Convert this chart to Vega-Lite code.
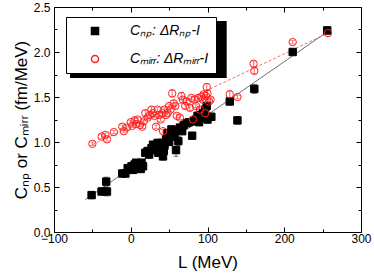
{
  "$schema": "https://vega.github.io/schema/vega-lite/v6.json",
  "width": 307,
  "height": 225,
  "autosize": "none",
  "padding": {"left": 54, "top": 7, "right": 13, "bottom": 46},
  "background": "white",
  "config": {
    "font": "Liberation Sans",
    "view": {"stroke": "black", "strokeWidth": 1},
    "axis": {"grid": false, "domainColor": "black", "tickColor": "black", "labelColor": "black", "titleColor": "black", "labelFontSize": 12, "titleFontSize": 17, "titleFontWeight": "normal", "labelFont": "Liberation Sans", "titleFont": "Liberation Sans", "labelFlush": false}
  },
  "datasets": {
    "pts": [
      {"L": -51, "C": 0.41, "err": 0.04, "s": "np"},
      {"L": -38, "C": 0.45, "err": 0.04, "s": "np"},
      {"L": -32, "C": 0.56, "err": 0.05, "s": "np"},
      {"L": -31, "C": 0.45, "err": 0.05, "s": "np"},
      {"L": -11, "C": 0.65, "err": 0.03, "s": "np"},
      {"L": -7, "C": 0.65, "err": 0.03, "s": "np"},
      {"L": -4, "C": 0.71, "err": 0.03, "s": "np"},
      {"L": 1, "C": 0.73, "err": 0.03, "s": "np"},
      {"L": 3, "C": 0.69, "err": 0.03, "s": "np"},
      {"L": 5, "C": 0.75, "err": 0.04, "s": "np"},
      {"L": 7, "C": 0.77, "err": 0.03, "s": "np"},
      {"L": 9, "C": 0.72, "err": 0.03, "s": "np"},
      {"L": 11, "C": 0.74, "err": 0.03, "s": "np"},
      {"L": 13, "C": 0.70, "err": 0.03, "s": "np"},
      {"L": 14, "C": 0.77, "err": 0.03, "s": "np"},
      {"L": 16, "C": 0.73, "err": 0.03, "s": "np"},
      {"L": 19, "C": 0.88, "err": 0.03, "s": "np"},
      {"L": 22, "C": 0.90, "err": 0.03, "s": "np"},
      {"L": 24, "C": 0.86, "err": 0.03, "s": "np"},
      {"L": 27, "C": 0.93, "err": 0.04, "s": "np"},
      {"L": 29, "C": 0.97, "err": 0.03, "s": "np"},
      {"L": 31, "C": 0.91, "err": 0.03, "s": "np"},
      {"L": 33, "C": 0.95, "err": 0.03, "s": "np"},
      {"L": 35, "C": 0.99, "err": 0.03, "s": "np"},
      {"L": 36, "C": 0.88, "err": 0.03, "s": "np"},
      {"L": 38, "C": 0.93, "err": 0.03, "s": "np"},
      {"L": 40, "C": 0.99, "err": 0.03, "s": "np"},
      {"L": 42, "C": 0.84, "err": 0.04, "s": "np"},
      {"L": 43, "C": 0.90, "err": 0.04, "s": "np"},
      {"L": 44, "C": 0.96, "err": 0.03, "s": "np"},
      {"L": 46, "C": 1.03, "err": 0.03, "s": "np"},
      {"L": 48, "C": 1.10, "err": 0.03, "s": "np"},
      {"L": 50, "C": 1.00, "err": 0.03, "s": "np"},
      {"L": 51, "C": 1.06, "err": 0.03, "s": "np"},
      {"L": 53, "C": 1.14, "err": 0.03, "s": "np"},
      {"L": 55, "C": 1.10, "err": 0.03, "s": "np"},
      {"L": 56, "C": 1.13, "err": 0.03, "s": "np"},
      {"L": 57, "C": 1.06, "err": 0.03, "s": "np"},
      {"L": 59, "C": 0.91, "err": 0.07, "s": "np"},
      {"L": 62, "C": 1.01, "err": 0.05, "s": "np"},
      {"L": 64, "C": 1.16, "err": 0.03, "s": "np"},
      {"L": 67, "C": 1.12, "err": 0.03, "s": "np"},
      {"L": 69, "C": 1.19, "err": 0.03, "s": "np"},
      {"L": 73, "C": 1.21, "err": 0.03, "s": "np"},
      {"L": 76, "C": 1.22, "err": 0.03, "s": "np"},
      {"L": 80, "C": 1.07, "err": 0.03, "s": "np"},
      {"L": 82, "C": 1.23, "err": 0.03, "s": "np"},
      {"L": 85, "C": 1.25, "err": 0.03, "s": "np"},
      {"L": 87, "C": 1.29, "err": 0.03, "s": "np"},
      {"L": 89, "C": 1.22, "err": 0.03, "s": "np"},
      {"L": 90, "C": 1.30, "err": 0.03, "s": "np"},
      {"L": 92, "C": 1.27, "err": 0.03, "s": "np"},
      {"L": 94, "C": 1.32, "err": 0.03, "s": "np"},
      {"L": 97, "C": 1.36, "err": 0.03, "s": "np"},
      {"L": 99, "C": 1.40, "err": 0.03, "s": "np"},
      {"L": 100, "C": 1.25, "err": 0.04, "s": "np"},
      {"L": 105, "C": 1.28, "err": 0.04, "s": "np"},
      {"L": 129, "C": 1.45, "err": 0.03, "s": "np"},
      {"L": 139, "C": 1.24, "err": 0.04, "s": "np"},
      {"L": 161, "C": 1.59, "err": 0.05, "s": "np"},
      {"L": 211, "C": 2.00, "err": 0.03, "s": "np"},
      {"L": 256, "C": 2.24, "err": 0.03, "s": "np"},
      {"L": -50, "C": 0.98, "err": 0.02, "s": "mirr"},
      {"L": -38, "C": 1.06, "err": 0.02, "s": "mirr"},
      {"L": -33, "C": 1.08, "err": 0.02, "s": "mirr"},
      {"L": -31, "C": 1.03, "err": 0.02, "s": "mirr"},
      {"L": -22, "C": 1.11, "err": 0.02, "s": "mirr"},
      {"L": -11, "C": 1.17, "err": 0.02, "s": "mirr"},
      {"L": -9, "C": 1.12, "err": 0.02, "s": "mirr"},
      {"L": -5, "C": 1.16, "err": 0.02, "s": "mirr"},
      {"L": 0, "C": 1.22, "err": 0.02, "s": "mirr"},
      {"L": 2, "C": 1.18, "err": 0.02, "s": "mirr"},
      {"L": 5, "C": 1.24, "err": 0.02, "s": "mirr"},
      {"L": 7, "C": 1.20, "err": 0.02, "s": "mirr"},
      {"L": 9, "C": 1.25, "err": 0.02, "s": "mirr"},
      {"L": 12, "C": 1.19, "err": 0.02, "s": "mirr"},
      {"L": 15, "C": 1.17, "err": 0.02, "s": "mirr"},
      {"L": 17, "C": 1.23, "err": 0.02, "s": "mirr"},
      {"L": 19, "C": 1.32, "err": 0.03, "s": "mirr"},
      {"L": 22, "C": 1.27, "err": 0.02, "s": "mirr"},
      {"L": 25, "C": 1.30, "err": 0.03, "s": "mirr"},
      {"L": 27, "C": 1.36, "err": 0.03, "s": "mirr"},
      {"L": 29, "C": 1.32, "err": 0.02, "s": "mirr"},
      {"L": 31, "C": 1.29, "err": 0.02, "s": "mirr"},
      {"L": 33, "C": 1.17, "err": 0.02, "s": "mirr"},
      {"L": 35, "C": 1.36, "err": 0.02, "s": "mirr"},
      {"L": 37, "C": 1.30, "err": 0.02, "s": "mirr"},
      {"L": 39, "C": 1.25, "err": 0.02, "s": "mirr"},
      {"L": 41, "C": 1.32, "err": 0.02, "s": "mirr"},
      {"L": 42, "C": 1.12, "err": 0.02, "s": "mirr"},
      {"L": 44, "C": 1.36, "err": 0.02, "s": "mirr"},
      {"L": 46, "C": 1.30, "err": 0.02, "s": "mirr"},
      {"L": 48, "C": 1.32, "err": 0.02, "s": "mirr"},
      {"L": 50, "C": 1.40, "err": 0.02, "s": "mirr"},
      {"L": 52, "C": 1.36, "err": 0.02, "s": "mirr"},
      {"L": 54, "C": 1.54, "err": 0.04, "s": "mirr"},
      {"L": 56, "C": 1.43, "err": 0.03, "s": "mirr"},
      {"L": 58, "C": 1.40, "err": 0.03, "s": "mirr"},
      {"L": 60, "C": 1.29, "err": 0.02, "s": "mirr"},
      {"L": 64, "C": 1.27, "err": 0.02, "s": "mirr"},
      {"L": 66, "C": 1.51, "err": 0.04, "s": "mirr"},
      {"L": 68, "C": 1.47, "err": 0.03, "s": "mirr"},
      {"L": 71, "C": 1.40, "err": 0.03, "s": "mirr"},
      {"L": 73, "C": 1.45, "err": 0.03, "s": "mirr"},
      {"L": 77, "C": 1.38, "err": 0.03, "s": "mirr"},
      {"L": 79, "C": 1.49, "err": 0.02, "s": "mirr"},
      {"L": 81, "C": 1.25, "err": 0.02, "s": "mirr"},
      {"L": 83, "C": 1.47, "err": 0.02, "s": "mirr"},
      {"L": 85, "C": 1.40, "err": 0.02, "s": "mirr"},
      {"L": 88, "C": 1.49, "err": 0.02, "s": "mirr"},
      {"L": 90, "C": 1.36, "err": 0.02, "s": "mirr"},
      {"L": 92, "C": 1.50, "err": 0.02, "s": "mirr"},
      {"L": 94, "C": 1.47, "err": 0.02, "s": "mirr"},
      {"L": 95, "C": 1.53, "err": 0.02, "s": "mirr"},
      {"L": 97, "C": 1.32, "err": 0.02, "s": "mirr"},
      {"L": 98, "C": 1.51, "err": 0.02, "s": "mirr"},
      {"L": 99, "C": 1.61, "err": 0.04, "s": "mirr"},
      {"L": 100, "C": 1.54, "err": 0.03, "s": "mirr"},
      {"L": 102, "C": 1.45, "err": 0.02, "s": "mirr"},
      {"L": 104, "C": 1.47, "err": 0.02, "s": "mirr"},
      {"L": 129, "C": 1.53, "err": 0.04, "s": "mirr"},
      {"L": 139, "C": 1.50, "err": 0.02, "s": "mirr"},
      {"L": 160, "C": 1.87, "err": 0.03, "s": "mirr"},
      {"L": 161, "C": 1.79, "err": 0.03, "s": "mirr"},
      {"L": 211, "C": 2.11, "err": 0.02, "s": "mirr"},
      {"L": 257, "C": 2.21, "err": 0.02, "s": "mirr"}
    ],
    "fits": [
      {"L": -59, "C": 0.36, "s": "np"},
      {"L": 257, "C": 2.23, "s": "np"},
      {"L": -50, "C": 0.97, "s": "mirr"},
      {"L": 257, "C": 2.21, "s": "mirr"}
    ]
  },
  "layer": [
    {
      "data": {"values": [{}]},
      "mark": {"type": "rect", "color": "black"},
      "encoding": {
        "x": {"datum": -79.2, "type": "quantitative", "scale": {"domain": [-100, 300], "nice": false, "zero": false}, "axis": null},
        "x2": {"datum": 125},
        "y": {"datum": 2.344, "type": "quantitative", "scale": {"domain": [0, 2.5], "nice": false, "zero": false}, "axis": null},
        "y2": {"datum": 1.712}
      }
    },
    {
      "data": {"name": "fits"},
      "mark": {"type": "line", "strokeWidth": 0.8},
      "encoding": {
        "x": {"field": "L", "type": "quantitative", "scale": {"domain": [-100, 300], "nice": false, "zero": false},
          "axis": {"orient": "top", "title": null, "labels": false, "domain": false, "values": [-100, -50, 0, 50, 100, 150, 200, 250, 300],
            "tickSize": {"condition": {"test": "datum.value % 100 === 0", "value": -5}, "value": -3}}},
        "y": {"field": "C", "type": "quantitative", "scale": {"domain": [0, 2.5], "nice": false, "zero": false},
          "axis": {"orient": "right", "title": null, "labels": false, "domain": false, "values": [0, 0.25, 0.5, 0.75, 1, 1.25, 1.5, 1.75, 2, 2.25, 2.5],
            "tickSize": {"condition": {"test": "round(datum.value * 4) % 2 === 0", "value": -5}, "value": -3}}},
        "color": {"field": "s", "type": "nominal", "scale": {"domain": ["mirr", "np"], "range": ["#ff4040", "#333333"]}, "legend": null},
        "strokeDash": {"field": "s", "type": "nominal", "scale": {"domain": ["mirr", "np"], "range": [[3, 2], [1, 0]]}, "legend": null}
      }
    },
    {
      "data": {"name": "pts"},
      "mark": {"type": "errorbar", "ticks": {"size": 5}, "thickness": 0.8},
      "encoding": {
        "x": {"field": "L", "type": "quantitative", "scale": {"domain": [-100, 300], "nice": false, "zero": false}, "axis": null},
        "y": {"field": "C", "type": "quantitative", "scale": {"domain": [0, 2.5], "nice": false, "zero": false}, "axis": null},
        "yError": {"field": "err"},
        "color": {"field": "s", "type": "nominal", "scale": {"domain": ["mirr", "np"], "range": ["#ff4040", "#333333"]}, "legend": null}
      }
    },
    {
      "data": {"name": "pts"},
      "mark": {"type": "point", "size": 55, "strokeWidth": 1, "opacity": 1},
      "encoding": {
        "x": {"field": "L", "type": "quantitative", "scale": {"domain": [-100, 300], "nice": false, "zero": false},
          "axis": {"orient": "bottom", "title": "L (MeV)", "titlePadding": 10, "values": [-100, -50, 0, 50, 100, 150, 200, 250, 300],
            "labelExpr": "datum.value % 100 === 0 ? datum.label : ''", "labelPadding": 6, "domain": false,
            "tickSize": {"condition": {"test": "datum.value % 100 === 0", "value": -5}, "value": -3}}},
        "y": {"field": "C", "type": "quantitative", "scale": {"domain": [0, 2.5], "nice": false, "zero": false},
          "axis": {"orient": "left", "title": "Cₙₚ or Cₘᵢᵣᵣ (fm/MeV)", "titlePadding": 3, "format": ".1f", "values": [0, 0.25, 0.5, 0.75, 1, 1.25, 1.5, 1.75, 2, 2.25, 2.5],
            "labelExpr": "round(datum.value * 4) % 2 === 0 ? datum.label : ''", "labelPadding": 9, "domain": false,
            "tickSize": {"condition": {"test": "round(datum.value * 4) % 2 === 0", "value": -5}, "value": -3}}},
        "shape": {"field": "s", "type": "nominal", "scale": {"domain": ["np", "mirr"], "range": ["square", "circle"]},
          "legend": {"orient": "none", "legendX": 12, "legendY": 10, "title": null, "fillColor": "white", "strokeColor": "black",
            "padding": 7, "symbolOffset": 15, "labelOffset": 28, "labelFontSize": 14, "labelFontStyle": "italic", "labelColor": "black",
            "rowPadding": 14, "symbolSize": 50, "labelLimit": 300, "zindex": 2,
            "labelExpr": "datum.label === 'np' ? 'Cₙₚ: ΔRₙₚ-I' : 'Cₘᵢᵣᵣ: ΔRₘᵢᵣᵣ-I'"}},
        "fill": {"field": "s", "type": "nominal", "scale": {"domain": ["np", "mirr"], "range": ["black", "transparent"]},
          "legend": {"orient": "none", "legendX": 12, "legendY": 10, "title": null, "fillColor": "white", "strokeColor": "black",
            "padding": 7, "symbolOffset": 15, "labelOffset": 28, "labelFontSize": 14, "labelFontStyle": "italic", "labelColor": "black",
            "rowPadding": 14, "symbolSize": 50, "labelLimit": 300, "zindex": 2,
            "labelExpr": "datum.label === 'np' ? 'Cₙₚ: ΔRₙₚ-I' : 'Cₘᵢᵣᵣ: ΔRₘᵢᵣᵣ-I'"}},
        "stroke": {"field": "s", "type": "nominal", "scale": {"domain": ["np", "mirr"], "range": ["black", "#ff2020"]},
          "legend": {"orient": "none", "legendX": 12, "legendY": 10, "title": null, "fillColor": "white", "strokeColor": "black",
            "padding": 7, "symbolOffset": 15, "labelOffset": 28, "labelFontSize": 14, "labelFontStyle": "italic", "labelColor": "black",
            "rowPadding": 14, "symbolSize": 50, "labelLimit": 300, "zindex": 2,
            "labelExpr": "datum.label === 'np' ? 'Cₙₚ: ΔRₙₚ-I' : 'Cₘᵢᵣᵣ: ΔRₘᵢᵣᵣ-I'"}}
      }
    }
  ],
  "resolve": {"axis": {"x": "independent", "y": "independent"}}
}
